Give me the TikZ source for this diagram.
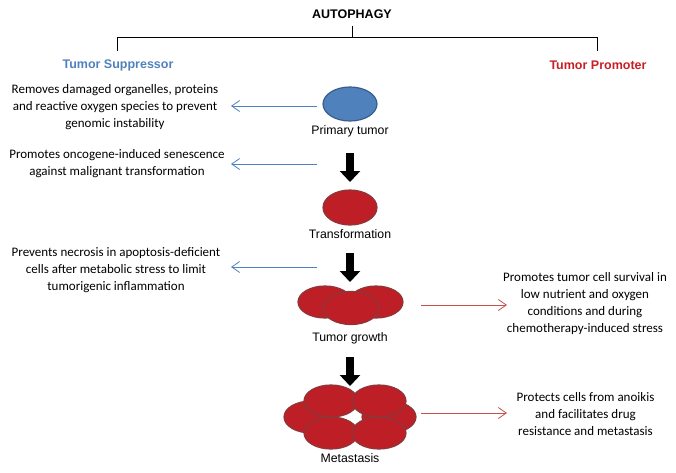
\documentclass[tikz,border=0pt]{standalone}
\usepackage{fontspec}
\setmainfont{Carlito}
\newfontfamily\hv{Liberation Sans}
\usetikzlibrary{arrows.meta,shapes.geometric}
\definecolor{cblue}{RGB}{79,129,189}
\definecolor{cbluedk}{RGB}{56,93,138}
\definecolor{cred}{RGB}{190,30,38}
\definecolor{creddk}{RGB}{140,55,58}
\definecolor{carrred}{RGB}{200,80,77}
\definecolor{ctitlered}{RGB}{200,30,36}
\tikzset{
  hvb/.style={font=\hv\bfseries\fontsize{12.5}{15}\selectfont, inner sep=0pt},
  lab/.style={font=\hv\fontsize{12.3}{15}\selectfont, inner sep=0pt},
  desc/.style={font=\fontsize{13}{17}\selectfont, align=center, inner sep=0pt},
  cellb/.style={ellipse, minimum width=54pt, minimum height=34pt, inner sep=0pt, fill=cblue, draw=cbluedk, line width=1.2pt},
  cellr/.style={ellipse, minimum width=54pt, minimum height=32pt, inner sep=0pt, fill=cred, draw=creddk, line width=1.2pt},
  blk/.style={line width=8pt, -{Triangle[width=20pt,length=11pt]}},
  barr/.style={draw=cblue, line width=0.8pt, -{Straight Barb[length=8pt,width=11pt]}},
  rarr/.style={draw=carrred, line width=0.8pt, -{Straight Barb[length=8pt,width=11pt]}},
  brk/.style={line width=0.8pt}
}
\begin{document}
\begin{tikzpicture}[x=1pt,y=-1pt]
\useasboundingbox (0,0) rectangle (676,472);
% title and bracket
\node[hvb] (auto) at (352,14) {AUTOPHAGY};
\coordinate (top) at (352,26);
\coordinate (j) at (352,37);
\coordinate (ls) at (117,37);
\coordinate (le) at (117,51);
\coordinate (rs) at (597,37);
\coordinate (re) at (597,51);
\draw[brk] (top) -- (j);
\draw[brk] (le) -- (ls) -- (rs) -- (re);
\node[hvb, text=cblue] (sup) at (118,65) {Tumor Suppressor};
\node[hvb, text=ctitlered] (pro) at (598,65) {Tumor Promoter};
% stage 1
\node[cellb] (pt) at (350,104) {};
\node[lab] (ptl) at (350,131) {Primary tumor};
% stage 2
\node[cellr, minimum height=35pt] (tr) at (350,207.5) {};
\node[lab] (trl) at (350,234) {Transformation};
% stage 3
\node[cellr] (tg1) at (325,302) {};
\node[cellr] (tg2) at (376,302) {};
\node[cellr, minimum width=56pt, minimum height=33pt] (tg3) at (351,308) {};
\node[lab] (tgl) at (350,338) {Tumor growth};
% stage 4
\node[cellr] (m1) at (311,417) {};
\node[cellr] (m2) at (389,417) {};
\node[cellr] (m3) at (331,433) {};
\node[cellr] (m4) at (379,433) {};
\node[cellr] (m5) at (331,401) {};
\node[cellr] (m6) at (379,401) {};
\node[lab] (ml) at (350,458) {Metastasis};
% black arrows
\coordinate (k1a) at (350,153); \coordinate (k1b) at (350,182);
\coordinate (k2a) at (350,253); \coordinate (k2b) at (350,282);
\coordinate (k3a) at (350,357); \coordinate (k3b) at (350,386);
\draw[blk] (k1a) -- (k1b);
\draw[blk] (k2a) -- (k2b);
\draw[blk] (k3a) -- (k3b);
% left descriptions
\node[desc] (d1) at (115,107) {Removes damaged organelles, proteins\\and reactive oxygen species to prevent\\genomic instability};
\node[desc] (d2) at (117,163.5) {Promotes oncogene-induced senescence\\against malignant transformation};
\node[desc] (d3) at (116,270) {Prevents necrosis in apoptosis-deficient\\cells after metabolic stress to limit\\tumorigenic inflammation};
% right descriptions
\node[desc] (d4) at (585,304) {Promotes tumor cell survival in\\low nutrient and oxygen\\conditions and during\\chemotherapy-induced stress};
\node[desc] (d5) at (585.5,414) {Protects cells from anoikis\\and facilitates drug\\resistance and metastasis};
% thin arrows
\coordinate (b1s) at (317,106); \coordinate (b1e) at (231,106);
\coordinate (b2s) at (317,164); \coordinate (b2e) at (231,164);
\coordinate (b3s) at (317,267); \coordinate (b3e) at (231,267);
\coordinate (r1s) at (421,305); \coordinate (r1e) at (507,305);
\coordinate (r2s) at (421,413); \coordinate (r2e) at (507,413);
\draw[barr] (b1s) -- (b1e);
\draw[barr] (b2s) -- (b2e);
\draw[barr] (b3s) -- (b3e);
\draw[rarr] (r1s) -- (r1e);
\draw[rarr] (r2s) -- (r2e);
\end{tikzpicture}
\end{document}
